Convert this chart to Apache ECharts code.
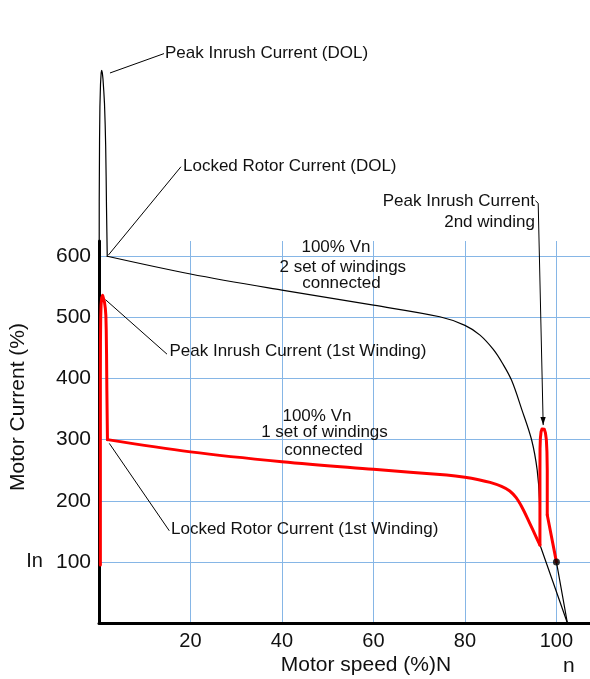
<!DOCTYPE html>
<html><head><meta charset="utf-8">
<script src="https://cdn.jsdelivr.net/npm/echarts@6/dist/echarts.min.js"></script>
<style>html,body{margin:0;padding:0;background:#fff}#c{width:590px;height:679px}</style>
</head><body><div id="c"></div>
<script>
// ---- data (x = motor speed %, y = motor current %) ----
const xTickLabels = [20, 40, 60, 80, 100];
const yTickLabels = [100, 200, 300, 400, 500, 600];

// DOL current (black)
const dolSpike = [
  [0, 0], [0.05, 690], [0.12, 790], [0.2, 845], [0.33, 882], [0.47, 900], [0.59, 904],
  [0.73, 900], [0.87, 890], [1.05, 870], [1.2, 850], [1.35, 815], [1.46, 780],
  [1.56, 730], [1.64, 680], [1.72, 640], [1.8, 600]
];
const dolFall = [
  [1.8, 600], [20, 571], [40, 544.5], [60, 520], [74.5, 501], [80, 487], [83.3, 471],
  [86.2, 447.6], [88.2, 425], [90.2, 397], [92.4, 350], [94.6, 299], [95.8, 250],
  [96.3, 200], [96.4, 128]
];
const dolTail = [[96.4, 128], [102.4, 0]];

// 1st winding current (red)
const w1Spike = [
  [0.3, 95], [0.3, 400], [0.32, 460], [0.37, 500], [0.45, 520], [0.58, 532], [0.8, 536],
  [1.0, 533], [1.2, 525], [1.38, 515], [1.5, 503], [1.58, 480], [1.65, 440],
  [1.72, 380], [1.8, 330], [1.85, 300]
];
const w1Run = [
  [1.85, 300], [20, 280], [40, 264], [60, 251.5], [76, 242], [80, 238.5], [83, 234.5],
  [85.5, 230], [88, 223.5], [89.8, 216], [91.2, 205], [92.5, 189], [94, 166],
  [95.3, 145], [96.4, 127.6]
];
const w2Spike = [
  [96.4, 127.6], [96.4, 250], [96.42, 285], [96.5, 303], [96.65, 313], [96.85, 317.5],
  [97.1, 318.4], [97.35, 317], [97.6, 311], [97.8, 300], [97.93, 280], [98.0, 250],
  [98.0, 176.6]
];
const w1Tail = [[98.0, 176.6], [100, 100]];

// rated point and its line down to zero current
const ratedPoint = [[100, 100]];
const ratedLine = [[100, 100], [102.4, 0]];

// annotation texts (anchor in data coordinates)
const annoTexts = [
  { t: 'Peak Inrush Current (DOL)', at: [14.43, 931.6], align: 'left' },
  { t: 'Locked Rotor Current (DOL)', at: [18.36, 747.3], align: 'left' },
  { t: 'Peak Inrush Current', at: [95.3, 690.6], align: 'right' },
  { t: '2nd winding', at: [95.3, 656.3], align: 'right' },
  { t: '100% Vn', at: [51.8, 614.1], align: 'center' },
  { t: '2 set of windings', at: [53.3, 582.2], align: 'center' },
  { t: 'connected', at: [53.0, 556.0], align: 'center' },
  { t: 'Peak Inrush Current (1st Winding)', at: [15.4, 443.7], align: 'left' },
  { t: '100% Vn', at: [47.65, 338.5], align: 'center' },
  { t: '1 set of windings', at: [49.3, 311.9], align: 'center' },
  { t: 'connected', at: [49.1, 282.9], align: 'center' },
  { t: 'Locked Rotor Current (1st Winding)', at: [15.74, 153.2], align: 'left' },
  { t: 'n', at: [102.7, -70.3], align: 'center' }
];
// leader lines (data coordinates)
const leaders = [
  [[2.40, 899.9], [14.21, 931.6]],
  [[2.03, 601.8], [17.92, 746.5]],
  [[95.41, 690.9], [96.02, 686.8], [97.11, 323.8]],
  [[1.42, 529.0], [14.86, 439.9]],
  [[2.25, 293.9], [15.37, 150.9]]
];
const arrowTip = [97.11, 323.8];

const FONT = '"Liberation Sans", Arial, Helvetica, sans-serif';
const gridColor = '#86b6e6';

function lineSeries(name, data, color, width, smooth, z) {
  return {
    type: 'line', name, data, showSymbol: false, symbol: 'none', clip: false,
    smooth: smooth, lineStyle: { color, width, join: 'round', cap: 'round' }, z
  };
}

const option = {
  animation: false,
  backgroundColor: '#fff',
  textStyle: { fontFamily: FONT },
  grid: { left: 99, top: 241, width: 494, height: 382, containLabel: false, outerBoundsMode: 'none' },
  xAxis: {
    type: 'value', min: 0, max: 108, interval: 20,
    name: 'Motor speed (%)N', nameLocation: 'middle', nameGap: 32, nameMoveOverlap: false,
    nameTextStyle: { fontSize: 21, color: '#111', fontFamily: FONT, padding: [0, 0, 0, 40] },
    axisLine: { show: true, onZero: false, lineStyle: { color: '#000', width: 3 } },
    axisTick: { show: false },
    axisLabel: {
      fontSize: 20, color: '#111', fontFamily: FONT, margin: 8,
      showMinLabel: false, showMaxLabel: false,
      formatter: v => (xTickLabels.indexOf(v) >= 0 ? String(v) : '')
    },
    splitLine: { show: true, showMinLine: false, showMaxLine: false, lineStyle: { color: gridColor, width: 1 } }
  },
  yAxis: {
    type: 'value', min: 0, max: 625, interval: 100,
    name: 'Motor Current (%)', nameLocation: 'middle', nameGap: 70, nameMoveOverlap: false,
    nameTextStyle: { fontSize: 21, color: '#111', fontFamily: FONT, padding: [0, 0, 0, 50] },
    axisLine: { show: true, onZero: false, lineStyle: { color: '#000', width: 3 } },
    axisTick: { show: false },
    axisLabel: {
      fontSize: 21, color: '#111', fontFamily: FONT, margin: 8,
      showMinLabel: false, showMaxLabel: false,
      formatter: v => {
        if (yTickLabels.indexOf(v) < 0) return '';
        if (v === 100) return '{i|In}{n|100}';
        return String(v);
      },
      rich: {
        i: { fontSize: 20, color: '#111', fontFamily: FONT, padding: [0, 13, 0, 0] },
        n: { fontSize: 21, color: '#111', fontFamily: FONT }
      }
    },
    splitLine: { show: true, showMinLine: false, showMaxLine: false, lineStyle: { color: gridColor, width: 1 } }
  },
  series: [
    lineSeries('DOL inrush', dolSpike, '#000', 1.2, false, 3),
    lineSeries('DOL', dolFall, '#000', 1.2, 0.35, 3),
    lineSeries('DOL end', dolTail, '#000', 1.2, false, 3),
    lineSeries('Rated', ratedLine, '#000', 1.2, false, 3),
    lineSeries('1st winding inrush', w1Spike, '#ff0000', 3, false, 4),
    lineSeries('1st winding', w1Run, '#ff0000', 3, 0.35, 4),
    lineSeries('2nd winding inrush', w2Spike, '#ff0000', 3, false, 4),
    lineSeries('1st winding end', w1Tail, '#ff0000', 3, false, 4),
    {
      type: 'scatter', name: 'In', data: ratedPoint, symbol: 'circle', symbolSize: 7,
      itemStyle: { color: '#000' }, z: 5
    }
  ]
};

const chart = echarts.init(document.getElementById('c'), null, { renderer: 'canvas' });
chart.setOption(option);

const toPx = p => chart.convertToPixel({ gridIndex: 0 }, p);
const graphics = [];
leaders.forEach(pts => {
  graphics.push({
    type: 'polyline', silent: true, z: 10,
    shape: { points: pts.map(toPx) },
    style: { stroke: '#000', lineWidth: 1, fill: null }
  });
});
const tip = toPx(arrowTip);
graphics.push({
  type: 'polygon', silent: true, z: 10,
  shape: { points: [[tip[0], tip[1]], [tip[0] - 2.8, tip[1] - 8], [tip[0] + 2.5, tip[1] - 8]] },
  style: { fill: '#000' }
});
annoTexts.forEach(a => {
  const p = toPx(a.at);
  graphics.push({
    type: 'text', silent: true, z: 11, x: p[0], y: p[1],
    style: {
      text: a.t, fill: '#111', fontSize: a.t === 'n' ? 21 : 17, fontFamily: FONT,
      align: a.align, verticalAlign: 'middle'
    }
  });
});
chart.setOption({ graphic: graphics });
</script>
</body></html>
